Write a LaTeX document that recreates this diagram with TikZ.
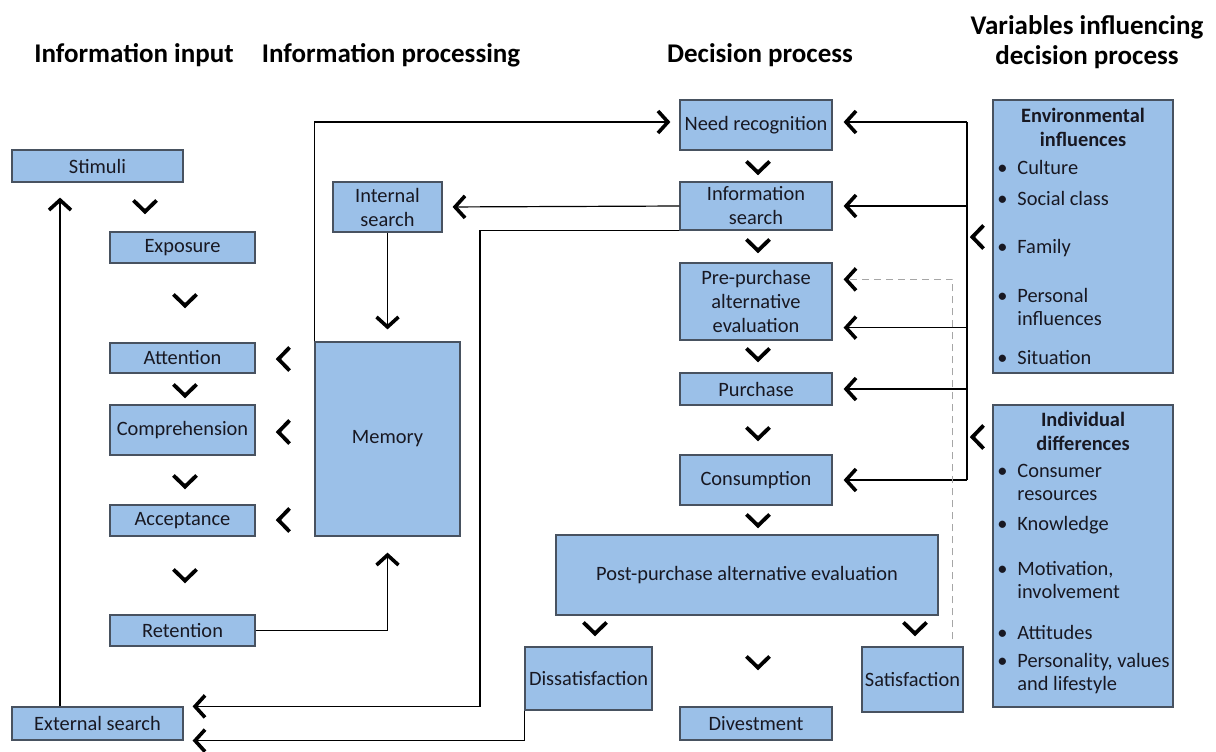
\documentclass[tikz,border=0pt]{standalone}
\usepackage{fontspec}
\setmainfont{Carlito}
\usetikzlibrary{arrows.meta}
\definecolor{boxblue}{RGB}{155,192,232}
\definecolor{boxline}{RGB}{72,82,96}
\definecolor{ink}{RGB}{24,24,34}
\tikzset{
  pics/dchev/.style={code={\draw[chev] (-5.8pt,2.8pt) -- (0,-2.8pt) -- (5.8pt,2.8pt);}},
  pics/lchev/.style={code={\draw[chev] (2.8pt,5.8pt) -- (-2.8pt,0) -- (2.8pt,-5.8pt);}},
}
\newcommand{\bul}{\makebox[10pt][l]{\textbullet}}

\begin{document}
\begin{tikzpicture}[x=0.5pt,y=-0.5pt,
  boxsize/.style 2 args={minimum width=#1*0.5pt,minimum height=#2*0.5pt},
  box/.style={draw=boxline,fill=boxblue,line width=0.6pt,text=ink,font=\fontsize{10.2}{12}\selectfont,align=center,inner sep=1pt},
  head/.style={font=\fontsize{13.5}{15}\selectfont\bfseries,text=black,align=center},
  item/.style={anchor=west,text=ink,font=\fontsize{10.2}{11.5}\selectfont,align=left,inner sep=0pt},
  itemhead/.style={text=ink,font=\fontsize{10.2}{12}\selectfont\bfseries,align=center,inner sep=0pt},
  wire/.style={line width=0.6pt},
  arr/.style={wire,-{Straight Barb[length=5pt,width=11pt,line width=1.8pt]},shorten >=4.5pt},
  dashline/.style={line width=0.6pt,black!35,dash pattern=on 3.5pt off 2.5pt,-{Straight Barb[length=5pt,width=11pt,line width=1.8pt,color=black]},shorten >=5.5pt},
  chev/.style={line width=1.9pt}]
\useasboundingbox (0,0) rectangle (1216,751);

% column headings
\node[head] (hinp) at (134,55) {Information input};
\node[head] (hpro) at (391,55) {Information processing};
\node[head] (hdec) at (760,55) {Decision process};
\node[head] (hvar) at (1087,42) {Variables influencing\\decision process};

% information input
\node[box,boxsize={171}{32}] (stim) at (97.5,166) {Stimuli};
\node[box,boxsize={145}{31}] (expo) at (182.5,247.5) {Exposure};
\node[box,boxsize={145}{30}] (atte) at (182.5,358) {Attention};
\node[box,boxsize={145}{50}] (comp) at (182.5,430) {Comprehension};
\node[box,boxsize={145}{31}] (acce) at (182.5,520.5) {Acceptance};
\node[box,boxsize={145}{31}] (rete) at (182.5,630.5) {Retention};
\node[box,boxsize={171}{33}] (exts) at (97.5,723.5) {External search};

% information processing
\node[box,boxsize={109}{50}] (ints) at (387.5,207) {Internal\\search};
\node[box,boxsize={145}{194}] (memo) at (387.5,439) {Memory};

% decision process
\node[box,boxsize={152}{50}] (need) at (756,125) {Need recognition};
\node[box,boxsize={152}{48}] (info) at (756,206) {Information\\search};
\node[box,boxsize={152}{77}] (prep) at (756,301.5) {Pre-purchase\\alternative\\evaluation};
\node[box,boxsize={152}{32}] (purc) at (756,389) {Purchase};
\node[box,boxsize={152}{50}] (cons) at (756,480) {Consumption};
\node[box,boxsize={382}{80}] (post) at (747,575) {Post-purchase alternative evaluation};
\node[box,boxsize={127}{63}] (diss) at (588.5,678.5) {Dissatisfaction};
\node[box,boxsize={101}{65}] (sati) at (912.5,679.5) {Satisfaction};
\node[box,boxsize={152}{33}] (dive) at (756,723.5) {Divestment};

% variables
\node[box,boxsize={180}{273}] (envi) at (1083,236.5) {};
\node[itemhead] (envh) at (1083,127.5) {Environmental\\influences};
\node[item] (env1) at (997,167) {\bul Culture};
\node[item] (env2) at (997,198) {\bul Social class};
\node[item] (env3) at (997,248) {\bul Family};
\node[item] (env4) at (997,306.5) {\bul Personal\\\hspace*{10pt}influences};
\node[item] (env5) at (997,358) {\bul Situation};

\node[box,boxsize={180}{302}] (indi) at (1083,556) {};
\node[itemhead] (indh) at (1083,431.5) {Individual\\differences};
\node[item] (ind1) at (997,482) {\bul Consumer\\\hspace*{10pt}resources};
\node[item] (ind2) at (997,525) {\bul Knowledge};
\node[item] (ind3) at (997,580.5) {\bul Motivation,\\\hspace*{10pt}involvement};
\node[item] (ind4) at (997,632) {\bul Attitudes};
\node[item] (ind5) at (997,674) {\bul Personality, values\\\hspace*{10pt}and lifestyle};

% step marks
\foreach \p in {(145,206),(185,300),(185,390),(185,481),(185,575),
                (758,167),(758,245),(758,354),(758,433),(758,520),
                (595,628),(915,628),(758,662)}
  \pic at \p {dchev};
\foreach \p in {(284,359),(284,432),(284,520),(978,237),(978,437)}
  \pic at \p {lchev};

% connectors
\draw[arr,shorten >=7.5pt] ([xshift=-18.75pt]exts.north) -- ([xshift=-18.75pt]stim.south);
\draw[arr] (memo.north west) |- ([yshift=1.5pt]need.west);
\draw[arr,shorten >=5pt] (info.west) -- (ints.east);
\coordinate (bend) at (480,400);
\draw[arr] (info.south west) -| (bend) |- (exts.north east);
\draw[arr] (diss.south west) |- (exts.south east);
\draw[arr,shorten >=6pt] (ints.south) -- (memo.north);
\draw[arr,shorten >=8pt] (rete.east) -| (memo.south);

\coordinate (bus) at (967,300);
\coordinate (needin) at ([yshift=1.5pt]need.east);
\coordinate (prein) at ([yshift=6.5pt]prep.south east);
\coordinate (predash) at ([yshift=-8.5pt]prep.north east);
\draw[wire] (needin -| bus) -- (cons.east -| bus);
\draw[arr,shorten >=5.5pt] (needin -| bus) -- (needin);
\draw[arr,shorten >=5.5pt] (info.east -| bus) -- (info.east);
\draw[arr,shorten >=5.5pt] (prein -| bus) -- (prein);
\draw[arr,shorten >=5.5pt] (purc.east -| bus) -- (purc.east);
\draw[arr,shorten >=5.5pt] (cons.east -| bus) -- (cons.east);
\draw[dashline] ([xshift=-5.5pt,yshift=3.5pt]sati.north east) |- (predash);
\end{tikzpicture}
\end{document}
